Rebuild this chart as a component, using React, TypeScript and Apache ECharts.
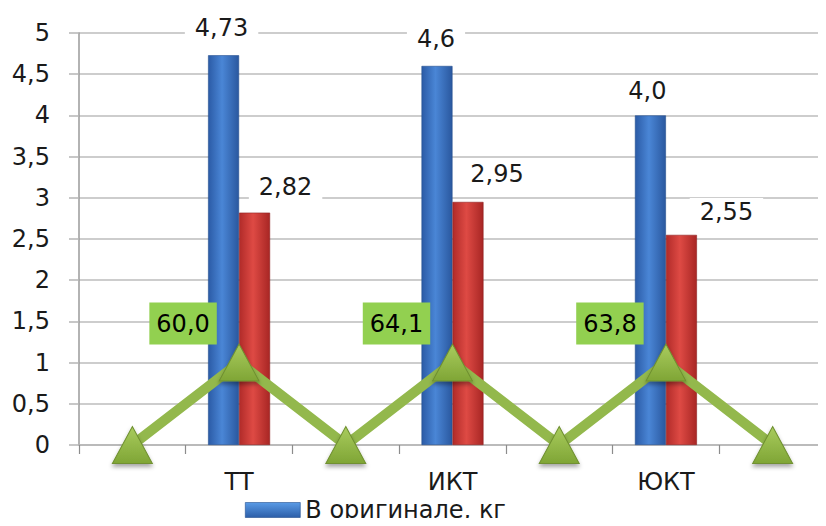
import React, { useEffect, useRef } from "react";
import * as echarts from "echarts";

// Data
const categories = ["ТТ", "ИКТ", "ЮКТ"];
const originalKg = [4.73, 4.6, 4.0];
const copyKg = [2.82, 2.95, 2.55];
const percentLabels = [60.0, 64.1, 63.8];
// zig-zag marker line (7 slots: gap, category, gap, category, ...)
const lineValues = [0, 1, 0, 1, 0, 1, 0];
const yTicks = { min: 0, max: 5, interval: 0.5 };

// Styles (label nudges)
const blueOffsets = [[-2, -8], [-1, -8], [-3, -5]];
const redOffsets = [[31, -7], [29, -9], [45, -4]];

const FONT = "DejaVu Sans";
const FS = 24;

export default function App() {
  const ref = useRef<HTMLDivElement>(null);
  useEffect(() => {
    if (!ref.current) return;
    const chart = echarts.init(ref.current, null, { renderer: "svg" });

    const slots: string[] = [];
    categories.forEach((c) => {
      slots.push("");
      slots.push(c);
    });
    slots.push("");

    const fmt1 = (v: number) => v.toString().replace(".", ",");
    const fmtFixed = (v: number, d: number) => v.toFixed(d).replace(".", ",");

    const blueData: any[] = [];
    const redData: any[] = [];
    slots.forEach((s) => {
      const ci = s === "" ? -1 : categories.indexOf(s);
      if (ci < 0) {
        blueData.push(null);
        redData.push(null);
      } else {
        const bv = originalKg[ci];
        const rv = copyKg[ci];
        blueData.push({
          value: bv,
          label: {
            offset: blueOffsets[ci],
            formatter: bv === Math.round(bv) ? fmtFixed(bv, 1) : fmt1(bv),
          },
        });
        redData.push({
          value: rv,
          label: { offset: redOffsets[ci], formatter: fmt1(rv) },
        });
      }
    });

    let peak = 0;
    const lineData = lineValues.map((v) => {
      if (v === 1 && peak < percentLabels.length) {
        const txt = fmtFixed(percentLabels[peak], 1);
        peak++;
        return {
          value: v,
          label: {
            show: true,
            position: "inside",
            offset: [-56, -39],
            formatter: txt,
            backgroundColor: "#92d050",
            color: "#000",
            padding: [10, 7, 8, 7],
            fontSize: FS,
            fontFamily: FONT,
          },
        };
      }
      return { value: v };
    });

    const blueGrad = new echarts.graphic.LinearGradient(0, 0, 1, 0, [
      { offset: 0, color: "#2b5ba6" },
      { offset: 0.45, color: "#4a86d6" },
      { offset: 1, color: "#2a589f" },
    ]);
    const redGrad = new echarts.graphic.LinearGradient(0, 0, 1, 0, [
      { offset: 0, color: "#b12b29" },
      { offset: 0.45, color: "#de4a44" },
      { offset: 1, color: "#a82624" },
    ]);
    const triGrad = new echarts.graphic.LinearGradient(0, 0, 0, 1, [
      { offset: 0, color: "#a9cc5e" },
      { offset: 1, color: "#7fa535" },
    ]);
    const legendGrad = new echarts.graphic.LinearGradient(0, 0, 0, 1, [
      { offset: 0, color: "#5a9be6" },
      { offset: 1, color: "#2c5ea8" },
    ]);

    const barLabel = {
      show: true,
      position: "top",
      distance: 5,
      fontSize: FS,
      fontFamily: FONT,
      color: "#1a1a1a",
      backgroundColor: "#ffffff",
      padding: [2, 10],
    };

    chart.setOption({
      animation: false,
      backgroundColor: "#ffffff",
      textStyle: { fontFamily: FONT },
      grid: { left: 79, top: 33, width: 756, height: 412, containLabel: false },
      legend: {
        data: [{ name: "В оригинале, кг", icon: "rect" }],
        left: 245,
        top: 498,
        padding: 0,
        itemWidth: 55,
        itemHeight: 15,
        textStyle: { fontSize: FS, lineHeight: 24, fontFamily: FONT, color: "#1a1a1a" },
        itemStyle: { color: legendGrad, borderColor: "#244f8f", borderWidth: 0.6 },
      },
      xAxis: {
        type: "category",
        data: slots,
        boundaryGap: true,
        axisLine: { show: true, lineStyle: { color: "#b4b4b4", width: 1.5 } },
        axisTick: { show: true, length: 9, interval: 0, lineStyle: { color: "#8c8c8c", width: 1.2 } },
        axisLabel: {
          interval: 0,
          margin: 25,
          fontSize: FS,
          fontFamily: FONT,
          color: "#1a1a1a",
        },
        splitLine: { show: false },
      },
      yAxis: {
        type: "value",
        min: yTicks.min,
        max: yTicks.max,
        interval: yTicks.interval,
        axisLine: { show: true, lineStyle: { color: "#9a9a9a", width: 1.5 } },
        axisTick: { show: true, length: 10, lineStyle: { color: "#b4b4b4", width: 1.5 } },
        axisLabel: {
          margin: 29,
          fontSize: FS,
          fontFamily: FONT,
          color: "#1a1a1a",
          formatter: (v: number) => fmt1(v),
        },
        splitLine: { show: true, lineStyle: { color: "#bdbdbd", width: 1.5 } },
      },
      series: [
        {
          name: "В оригинале, кг",
          type: "bar",
          data: blueData,
          barWidth: 31,
          barGap: "0%",
          itemStyle: { color: blueGrad, borderColor: "#244f8f", borderWidth: 0.6 },
          label: barLabel,
          z: 2,
        },
        {
          name: "В копии, кг",
          type: "bar",
          data: redData,
          barWidth: 31,
          barGap: "0%",
          itemStyle: { color: redGrad, borderColor: "#8f2020", borderWidth: 0.6 },
          label: barLabel,
          z: 2,
        },
        {
          name: "%",
          type: "line",
          data: lineData,
          symbol: "triangle",
          symbolSize: [40, 37],
          lineStyle: { color: "#93b84c", width: 10 },
          itemStyle: {
            color: triGrad,
            borderColor: "#6f9030",
            borderWidth: 1,
            shadowColor: "rgba(0,0,0,0.35)",
            shadowBlur: 4,
            shadowOffsetY: 3,
          },
          label: { show: false },
          z: 5,
        },
      ],
    });
    return () => chart.dispose();
  }, []);
  return <div ref={ref} style={{ width: 826, height: 526, margin: -8 }} />;
}
